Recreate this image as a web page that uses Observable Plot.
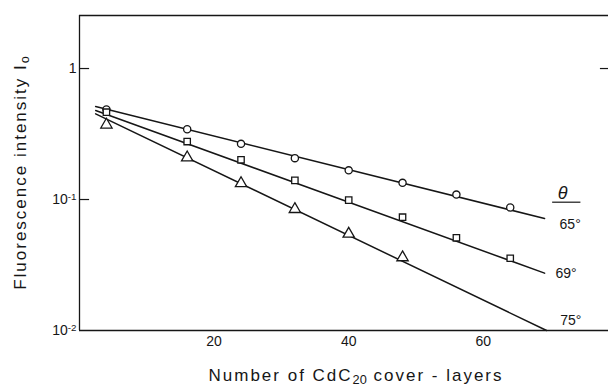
<!DOCTYPE html>
<html><head><meta charset="utf-8">
<script src="https://cdn.jsdelivr.net/npm/d3@7"></script>
<script src="https://cdn.jsdelivr.net/npm/@observablehq/plot@0.6"></script>
<style>body{margin:0;background:#fff}</style>
</head><body><div id="chart"></div>
<script>
// Number of CdC20 cover-layers (x) and fluorescence intensity I0 (y, log scale)
const layers = [4, 16, 24, 32, 40, 48, 56, 64];
const i65 = [0.486, 0.344, 0.266, 0.207, 0.167, 0.134, 0.109, 0.087];
const i69 = [0.464, 0.277, 0.201, 0.140, 0.099, 0.0733, 0.051, 0.0356];
const i75 = [0.372, 0.209, 0.133, 0.0843, 0.0547, 0.0361];
// fitted straight lines (end points)
const fitX65 = [2.4, 69.1], fit65 = [0.513, 0.0716];
const fitX69 = [2.4, 69.1], fit69 = [0.478, 0.0274];
const fitX75 = [2.4, 69.4], fit75 = [0.451, 0.01];
// series labels
const angles = ["65°", "69°", "75°"];
const angleX = [72.9, 72.3, 73.0];
const angleY = [0.0648, 0.0272, 0.0119];
const thetaLabel = "θ", thetaX = 71.8, thetaY = 0.111;
const thetaRuleX = [70.3, 74.5], thetaRuleY = 0.0954;
const xTicks = [20, 40, 60];
const yTicks = [1, 0.1, 0.01];
const yTickLabels = ["1", "10^-1", "10^-2"];
const yTitle = "Fluorescence intensity I_o";
const xTitle = "Number of CdC_20 cover - layers";
const xDomain = [0, 78.6];
const yDomain = [0.01, 2.54];

const pts = (xs, ys) => ys.map((v, i) => ({x: xs[i], y: v}));
const ink = "#161616";
const font = "'Liberation Sans', Arial, sans-serif";

const plot = Plot.plot({
  width: 608, height: 391,
  marginLeft: 79, marginRight: 0, marginTop: 15, marginBottom: 61,
  style: {fontFamily: font, background: "#fff", color: ink},
  x: {type: "linear", domain: xDomain},
  y: {type: "log", domain: yDomain},
  marks: [
    // frame lines
    Plot.ruleX([xDomain[0]], {y1: yDomain[0], y2: yDomain[1], stroke: ink, strokeWidth: 1.3}),
    Plot.ruleY([yDomain[0]], {x1: xDomain[0], x2: xDomain[1], stroke: ink, strokeWidth: 1.3}),
    Plot.ruleY([yDomain[1]], {x1: xDomain[0], x2: xDomain[1], stroke: ink, strokeWidth: 1.3}),
    // inward y ticks
    Plot.ruleY(yTicks.slice(0, 2), {x1: xDomain[0], x2: xDomain[0] + 1.5, stroke: ink, strokeWidth: 1.2}),
    Plot.ruleY([yTicks[0]], {x1: xDomain[1] - 1.2, x2: xDomain[1], stroke: ink, strokeWidth: 1.2}),
    Plot.axisY({ticks: yTicks, tickSize: 0, tickPadding: 3, fontSize: 14,
      tickFormat: d => yTickLabels[yTicks.indexOf(d)], label: null}),
    Plot.axisX({ticks: xTicks, tickSize: 0, tickPadding: 6, fontSize: 14, label: null}),
    // fitted lines
    Plot.line(pts(fitX65, fit65), {x: "x", y: "y", stroke: ink, strokeWidth: 1.5}),
    Plot.line(pts(fitX69, fit69), {x: "x", y: "y", stroke: ink, strokeWidth: 1.5}),
    Plot.line(pts(fitX75, fit75), {x: "x", y: "y", stroke: ink, strokeWidth: 1.5}),
    // data markers
    Plot.dot(pts(layers, i65), {x: "x", y: "y", symbol: "circle", r: 3.6, fill: "#fff", stroke: ink, strokeWidth: 1.3}),
    Plot.dot(pts(layers, i69), {x: "x", y: "y", symbol: "square", r: 3.6, fill: "#fff", stroke: ink, strokeWidth: 1.3}),
    Plot.dot(pts(layers, i75), {x: "x", y: "y", symbol: "triangle", r: 4.2, fill: "#fff", stroke: ink, strokeWidth: 1.3}),
    // series labels
    Plot.text(angles, {x: (d, i) => angleX[i], y: (d, i) => angleY[i], text: d => d, fontSize: 14, fill: ink}),
    Plot.text([thetaLabel], {x: thetaX, y: thetaY, text: d => d, fontSize: 18, fontStyle: "italic", fill: ink}),
    Plot.ruleY([thetaRuleY], {x1: thetaRuleX[0], x2: thetaRuleX[1], stroke: ink, strokeWidth: 1.2}),
    // axis titles
    Plot.text([yTitle], {frameAnchor: "left", textAnchor: "middle", rotate: -90, dx: -59, fontSize: 17, fill: ink}),
    Plot.text([xTitle], {frameAnchor: "bottom", textAnchor: "middle", dx: 12, dy: 50, fontSize: 17, fill: ink})
  ]
});

// turn ^sup and _sub markers into real tspans
d3.select(plot).selectAll("text").each(function () {
  const s = this.textContent;
  const m = s.match(/^(.*?)([\^_])(\S+)(.*)$/);
  if (!m) return;
  const el = d3.select(this);
  el.text(null);
  el.append("tspan").text(m[1]);
  el.append("tspan").attr("baseline-shift", m[2] === "^" ? "45%" : "-22%")
    .attr("font-size", m[2] === "^" ? "70%" : "75%").attr("letter-spacing", "0px").text(m[3]);
  if (m[4]) el.append("tspan").text(m[4]);
});
d3.select(plot).selectAll('g[aria-label="y-axis tick label"] text').attr("font-size", 14);
d3.select(plot).selectAll("text").filter(function () {
  return this.textContent.startsWith("Fluor") || this.textContent.startsWith("Number");
}).attr("letter-spacing", "2px");

document.getElementById("chart").appendChild(plot);
</script>
</body></html>
